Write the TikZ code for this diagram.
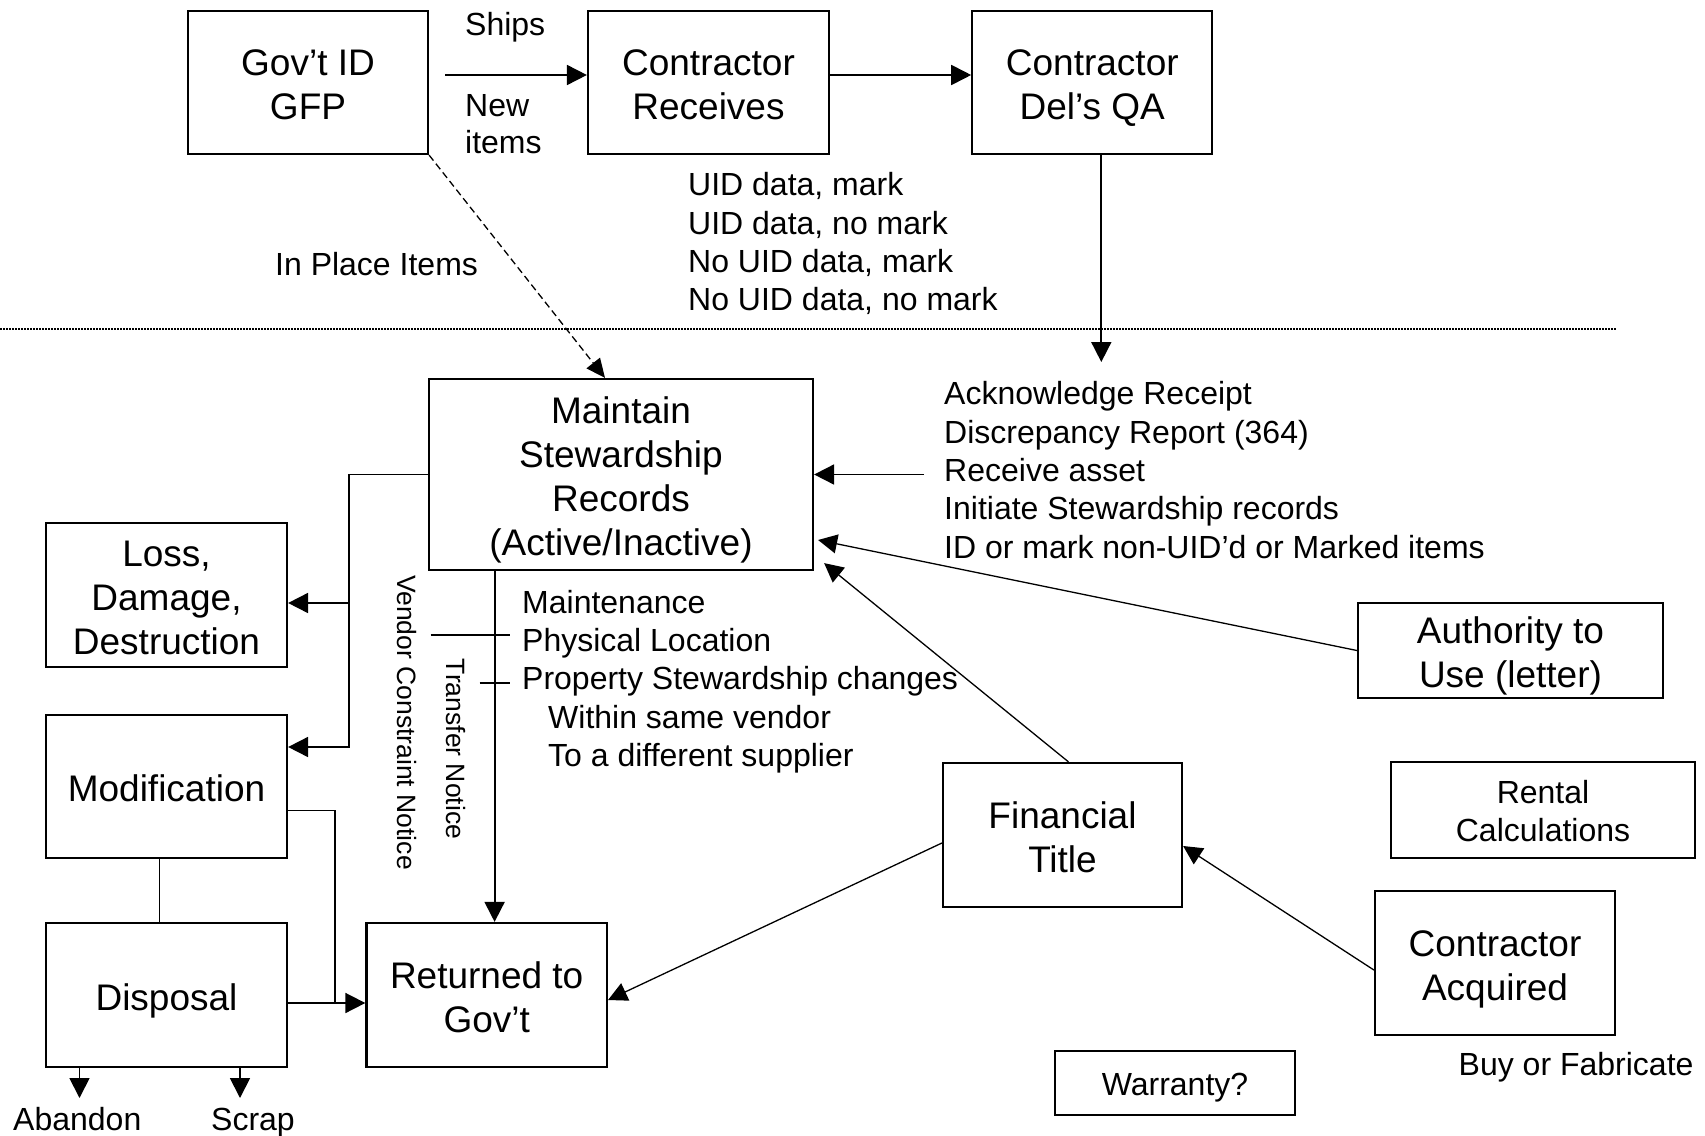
\documentclass[tikz,border=0pt]{standalone}
\usepackage{fontspec}
\setmainfont{Liberation Sans}
\usetikzlibrary{arrows.meta}
\newcommand\fbig{\fontsize{37}{44}\selectfont}
\newcommand\fsml{\fontsize{32}{38.4}\selectfont}
\newcommand\bst{\rule[-9.5pt]{0pt}{49.5pt}}
\newcommand\sst{\rule[-9pt]{0pt}{43pt}}
\setlength\lineskiplimit{-1000pt}
\begin{document}
\begin{tikzpicture}[x=1pt,y=-1pt,
  box/.style={draw, line width=2.2pt, inner sep=0pt, align=center, font=\fbig},
  sbox/.style={box, font=\fsml},
  lbl/.style={inner sep=0pt, font=\fsml, align=left},
  conn/.style={line width=1.8pt},
  arr/.style={conn, -{Triangle[length=20pt,width=20pt]}},
  thinarr/.style={line width=1.3pt, -{Triangle[length=19pt,width=19pt]}},
  rot/.style={inner sep=0pt, rotate=-90, font=\fontsize{26.5}{32}\selectfont}
]
\useasboundingbox (0,0) rectangle (1705,1135);

% boxes
\node[box, minimum width=240pt, minimum height=143pt] (gov) at (308,82.5) {\bst Gov’t ID\\\bst GFP};
\node[box, minimum width=241pt, minimum height=143pt] (rec) at (708.5,82.5) {\bst Contractor\\\bst Receives};
\node[box, minimum width=240pt, minimum height=143pt] (del) at (1092.3,82.5) {\bst Contractor\\\bst Del’s QA};
\node[box, minimum width=384pt, minimum height=191pt] (mss) at (621,474.5) {\bst Maintain\\\bst Stewardship\\\bst Records\\\bst (Active/Inactive)};
\node[box, minimum width=241pt, minimum height=144pt] (loss) at (166.5,595) {\bst Loss,\\\bst Damage,\\\bst Destruction};
\node[box, minimum width=241pt, minimum height=143pt] (mod) at (166.5,786.5) {\bst Modification};
\node[box, minimum width=241pt, minimum height=144pt] (disp) at (166.5,995) {\bst Disposal};
\node[box, minimum width=240.5pt, minimum height=144pt] (ret) at (486.7,995) {\bst Returned to\\\bst Gov’t};
\node[box, minimum width=239pt, minimum height=144pt] (fin) at (1062.5,835) {\bst Financial\\\bst Title};
\node[box, minimum width=305pt, minimum height=95pt] (auth) at (1510.5,650.5) {\bst Authority to\\\bst Use (letter)};
\node[sbox, minimum width=304pt, minimum height=96pt] (rent) at (1543,810) {\sst Rental\\\sst Calculations};
\node[box, minimum width=240pt, minimum height=144pt] (acq) at (1495,963) {\bst Contractor\\\bst Acquired};
\node[sbox, minimum width=240pt, minimum height=64pt] (warr) at (1175,1083) {\sst Warranty?};

% labels
\node[lbl, anchor=base west] (ships) at (465,35) {Ships};
\node[lbl, anchor=west, font=\fontsize{32}{37}\selectfont] (new) at (465,124) {New\\items};
\node[lbl, anchor=west] (uid) at (688,243.7) {UID data, mark\\UID data, no mark\\No UID data, mark\\No UID data, no mark};
\node[lbl, anchor=base west] (inplace) at (275,275) {In Place Items};
\node[lbl, anchor=west] (ack) at (944,470) {Acknowledge Receipt\\Discrepancy Report (364)\\Receive asset\\Initiate Stewardship records\\ID or mark non-UID’d or Marked items};
\node[lbl, anchor=west] (mnt) at (522,681.6) {Maintenance\\Physical Location\\Property Stewardship changes\\\hspace*{26pt}Within same vendor\\\hspace*{26pt}To a different supplier};
\node[lbl, anchor=base west] (buy) at (1458.5,1075) {Buy or Fabricate};
\node[lbl, anchor=base west] (abd) at (13,1130) {Abandon};
\node[lbl, anchor=base west] (scr) at (211,1130) {Scrap};
\node[rot] (vcn) at (407,722.5) {Vendor Constraint Notice};
\node[rot] (trn) at (456,749) {Transfer Notice};

% dotted separator
\coordinate (dl) at (0,329);
\coordinate (dr) at (1617,329);
\draw[line width=1.2pt, dash pattern=on 1.5pt off 1.5pt] (dl) -- (dr);

% top connectors
\draw[arr] ([xshift=16pt,yshift=7.5pt]gov.east) -- ([yshift=7.5pt]rec.west);
\draw[arr] ([yshift=7.5pt]rec.east) -- ([yshift=7.5pt]del.west);
\draw[line width=1.3pt, dash pattern=on 7pt off 4pt, -{Triangle[length=19pt,width=17pt]}] (gov.south east) -- ([xshift=-16pt]mss.north);
\coordinate (delend) at (1101.3,362);
\draw[arr] ([xshift=9pt]del.south) -- (delend);

% into Maintain
\coordinate (rcv) at (924,474.5);
\draw[arr] (rcv) -- (mss.east);
\draw[thinarr] (auth.west) -- ([shift={(4pt,-65.5pt)}]mss.east);
\draw[thinarr] ([xshift=6pt]fin.north) -- ([shift={(10pt,8pt)}]mss.south east);
\draw[thinarr] ([yshift=-7pt]acq.west) -- ([yshift=-11pt]fin.east);
\draw[thinarr] ([yshift=-8pt]fin.west) -- ([yshift=-5pt]ret.east);

% left tree
\coordinate (tr) at (349,747);
\draw[arr] (mss.west) -| (tr) -- (tr -| mod.east);
\coordinate (lossin) at ([yshift=-8pt]loss.east);
\draw[arr] (lossin -| tr) -- (lossin);
\coordinate (retin) at ([yshift=-8pt]ret.west);
\draw[arr] (retin -| disp.east) -- (retin);
\coordinate (jm) at (335,1003);
\draw[conn] ([yshift=-24pt]mod.east) -| (jm);
\draw[conn] ([xshift=-7pt]mod.south) -- ([xshift=-7pt]disp.north);
\coordinate (ab) at (79.5,1098);
\coordinate (sc) at (240,1098);
\draw[arr] (ab |- disp.south) -- (ab);
\draw[arr] (sc |- disp.south) -- (sc);

% down from Maintain
\coordinate (md) at ([xshift=-126.4pt]mss.south);
\draw[arr] (md) -- (md |- ret.north);
\coordinate (t1a) at (430.5,635);
\coordinate (t1b) at (510,635);
\coordinate (t2a) at (479.5,683);
\coordinate (t2b) at (510,683);
\draw[conn] (t1a) -- (t1b);
\draw[conn] (t2a) -- (t2b);
\end{tikzpicture}
\end{document}
